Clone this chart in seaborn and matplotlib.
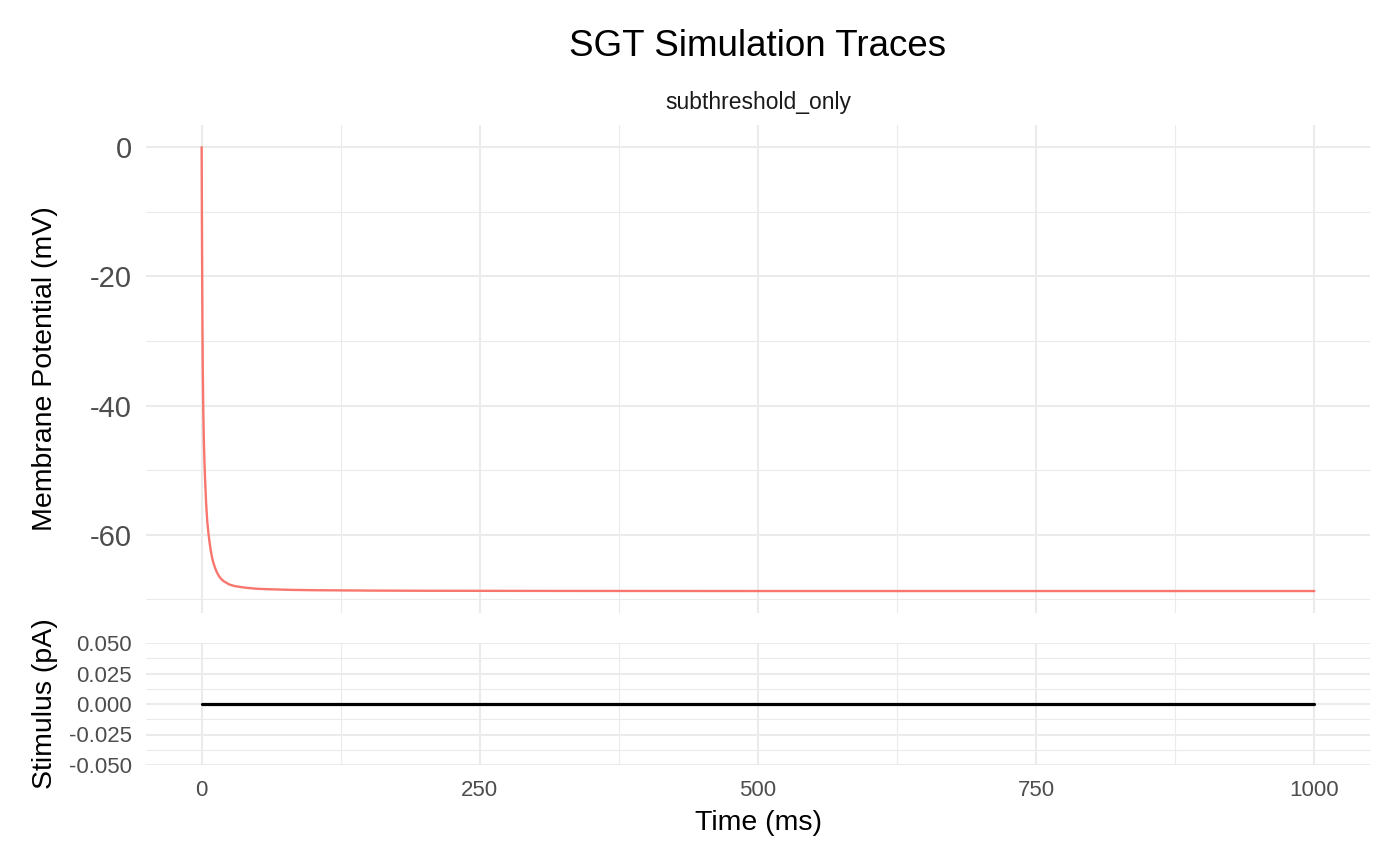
import matplotlib
matplotlib.use("Agg")
import matplotlib.pyplot as plt
import seaborn as sns
import pandas as pd
from matplotlib.ticker import FixedLocator, FuncFormatter

# ---- data ----
time_ms = [0, 0.25, 0.5, 0.75, 1, 1.5, 2, 2.5, 3, 4, 5, 6, 7, 8, 9, 10, 12, 14, 16,
           18, 20, 25, 30, 40, 50, 60, 80, 100, 150, 200, 300, 500, 750, 1000]
membrane_mv = [0, -11, -20, -28, -34, -41, -45.5, -48.5, -51, -55, -57.8, -59.6,
               -61, -62.2, -63.2, -64, -65.1, -65.9, -66.5, -66.9, -67.2, -67.7,
               -67.95, -68.2, -68.35, -68.42, -68.52, -68.57, -68.63, -68.66,
               -68.68, -68.7, -68.7, -68.7]
stim_time_ms = [0, 250, 500, 750, 1000]
stim_pa = [0, 0, 0, 0, 0]

x_ticks = [0, 250, 500, 750, 1000]
x_minor = [125, 375, 625, 875]
v_ticks = [0, -20, -40, -60]
v_minor = [-10, -30, -50, -70]
s_ticks = [-0.05, -0.025, 0.0, 0.025, 0.05]
s_minor = [-0.0375, -0.0125, 0.0125, 0.0375]

title = "SGT Simulation Traces"
strip = "subthreshold_only"

vm_df = pd.DataFrame({"time": time_ms, "v": membrane_mv})
st_df = pd.DataFrame({"time": stim_time_ms, "i": stim_pa})

sns.set_theme(style="white")
plt.rcParams["font.family"] = ["Liberation Sans", "DejaVu Sans"]
plt.rcParams["axes.unicode_minus"] = False

W, H = 1400, 865
fig = plt.figure(figsize=(W / 100, H / 100), dpi=100)
fig.patch.set_facecolor("white")

L, R = 146, 1370

def rect(l, t, r, b):
    return [l / W, 1 - b / H, (r - l) / W, (b - t) / H]

ax1 = fig.add_axes(rect(L, 125, R, 613))
ax2 = fig.add_axes(rect(L, 643, R, 765))

sns.lineplot(data=vm_df, x="time", y="v", ax=ax1, color="#F8766D",
             linewidth=1.7, estimator=None, sort=False)
sns.lineplot(data=st_df, x="time", y="i", ax=ax2, color="black",
             linewidth=2.3, estimator=None, sort=False)

grid_col = "#EBEBEB"
for ax in (ax1, ax2):
    ax.set_xlim(-50, 1050)
    ax.xaxis.set_major_locator(FixedLocator(x_ticks))
    ax.xaxis.set_minor_locator(FixedLocator(x_minor))
    for s in ax.spines.values():
        s.set_visible(False)
    ax.set_axisbelow(True)
    ax.grid(which="major", color=grid_col, linewidth=1.5)
    ax.grid(which="minor", color=grid_col, linewidth=0.8)
    ax.tick_params(which="both", length=0)
    ax.set_xlabel("")
    ax.set_ylabel("")
    ax.set_facecolor("white")

ax1.set_ylim(-72.1, 3.43)
ax1.yaxis.set_major_locator(FixedLocator(v_ticks))
ax1.yaxis.set_minor_locator(FixedLocator(v_minor))
ax1.yaxis.set_major_formatter(FuncFormatter(lambda v, p: f"{v:.0f}"))
ax1.tick_params(axis="y", labelsize=21, labelcolor="#4D4D4D", pad=10.3)
ax1.tick_params(axis="x", labelbottom=False)

ax2.set_ylim(-0.05, 0.05)
ax2.yaxis.set_major_locator(FixedLocator(s_ticks))
ax2.yaxis.set_minor_locator(FixedLocator(s_minor))
ax2.yaxis.set_major_formatter(FuncFormatter(lambda v, p: f"{v:.3f}".replace("-0.000", "0.000")))
ax2.xaxis.set_major_formatter(FuncFormatter(lambda v, p: f"{v:.0f}"))
ax2.tick_params(axis="y", labelsize=16, labelcolor="#4D4D4D", pad=10.3)
ax2.tick_params(axis="x", labelsize=16, labelcolor="#4D4D4D", pad=11)

cx = (L + R) / 2 / W
fig.text(cx, 1 - 56 / H, title, ha="center", va="baseline", fontsize=26.5, color="black")
fig.text(cx, 1 - 109.3 / H, strip, ha="center", va="baseline", fontsize=16.5, color="#1A1A1A")
fig.text(cx, 1 - 830 / H, "Time (ms)", ha="center", va="baseline", fontsize=20.5, color="black")
fig.text(52.5 / W, 1 - ((125 + 613) / 2) / H, "Membrane Potential (mV)", rotation=90,
         rotation_mode="anchor", ha="center", va="baseline", fontsize=20.5, color="black")
fig.text(52.5 / W, 1 - ((643 + 765) / 2) / H, "Stimulus (pA)", rotation=90,
         rotation_mode="anchor", ha="center", va="baseline", fontsize=20.5, color="black")

fig.savefig("out.png", dpi=100, facecolor="white")
